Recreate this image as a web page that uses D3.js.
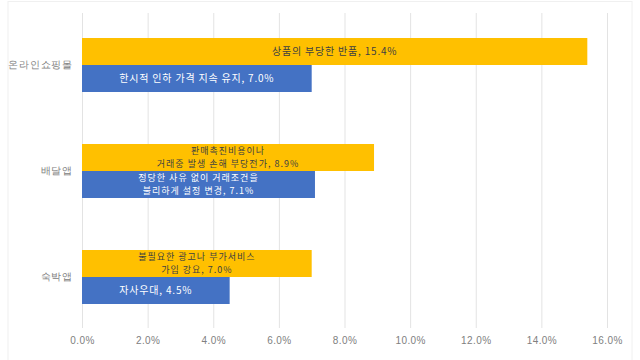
<!DOCTYPE html>
<html>
<head>
<meta charset="utf-8">
<script src="https://cdn.jsdelivr.net/npm/d3@7"></script>
<style>
  body { margin: 0; background: #fff; }
  svg { font-family: "Noto Sans CJK KR", "Noto Sans", sans-serif; }
</style>
</head>
<body>
<svg width="640" height="360"></svg>
<script>
const categories = ["온라인쇼핑몰", "배달앱", "숙박앱"];
const series = ["yellow", "blue"];
const yellowValues = [15.4, 8.9, 7.0];
const blueValues = [7.0, 7.1, 4.5];
const yellowLabels = [
    ["상품의 부당한 반품, 15.4%"],
    ["판매촉진비용이나", "거래중 발생 손해 부당전가, 8.9%"],
    ["불필요한 광고나 부가서비스", "가입 강요, 7.0%"]
];
const blueLabels = [
    ["한시적 인하 가격 지속 유지, 7.0%"],
    ["정당한 사유 없이 거래조건을", "불리하게 설정 변경, 7.1%"],
    ["자사우대, 4.5%"]
];
const xTicks = [0, 2, 4, 6, 8, 10, 12, 14, 16];

const colors = { yellow: "#FFC000", blue: "#4472C4" };
const textColors = { yellow: "#404040", blue: "#ffffff" };

const svg = d3.select("svg");

const margin = { left: 82 };

const x = d3.scaleLinear()
    .domain([0, 16])
    .range([margin.left, 607]);

const y = d3.scaleBand()
    .domain(categories)
    .range([12, 330]);

// frame
svg.append("rect")
    .attr("x", 8)
    .attr("y", 1.5)
    .attr("width", 624)
    .attr("height", 400)
    .attr("fill", "none")
    .attr("stroke", "#f0f0f0");

// gridlines
svg.append("g")
    .selectAll("line")
    .data(xTicks)
    .enter()
    .append("line")
    .attr("x1", d => x(d) + 0.5)
    .attr("x2", d => x(d) + 0.5)
    .attr("y1", 13)
    .attr("y2", 328)
    .attr("stroke", "#e3e3e3");

// x axis labels
const xAxis = d3.axisBottom(x)
    .tickValues(xTicks)
    .tickFormat(d => d.toFixed(1) + "%")
    .tickSize(0)
    .tickPadding(0);

const gx = svg.append("g")
    .attr("transform", "translate(0,337)")
    .call(xAxis);
gx.select(".domain").remove();
gx.selectAll("text")
    .attr("fill", "#808080")
    .style("font-size", "10px")
    .style("letter-spacing", "0.4px")
    .style("font-family", "'Liberation Sans', Arial, sans-serif");

// y axis labels
const yAxis = d3.axisLeft(y).tickSize(0).tickPadding(9);
const gy = svg.append("g")
    .attr("transform", `translate(${margin.left},0)`)
    .call(yAxis);
gy.select(".domain").remove();
gy.selectAll("text")
    .attr("fill", "#808080")
    .style("font-size", "10px")
    .style("letter-spacing", "0.8px");

const barH = 27;
const rows = categories.map((c, i) => [
    { cat: c, s: "yellow", v: yellowValues[i], label: yellowLabels[i] },
    { cat: c, s: "blue", v: blueValues[i], label: blueLabels[i] }
]).flat();

const barY = d => y(d.cat) + y.bandwidth() / 2 + (d.s === "yellow" ? -barH : 0);

svg.append("g")
    .selectAll("rect")
    .data(rows)
    .enter()
    .append("rect")
    .attr("x", x(0))
    .attr("y", barY)
    .attr("width", d => x(d.v) - x(0))
    .attr("height", barH)
    .attr("fill", d => colors[d.s]);

// bar labels, one text per line so lines never overlap
const lineH = 13;
const lines = rows.flatMap(d => d.label.map((t, i) => ({
    d: d,
    t: t,
    cy: barY(d) + barH / 2 + (i - (d.label.length - 1) / 2) * lineH,
    multi: d.label.length > 1
})));

svg.append("g")
    .selectAll("text")
    .data(lines)
    .enter()
    .append("text")
    .attr("x", l => (x(0) + x(l.d.v)) / 2)
    .attr("y", l => l.cy)
    .attr("dy", "0.35em")
    .attr("text-anchor", "middle")
    .attr("fill", l => textColors[l.d.s])
    .style("font-size", l => l.multi ? "9px" : "10px")
    .style("letter-spacing", l => l.multi ? "1px" : "0.8px")
    .text(l => l.t);
</script>
</body>
</html>
